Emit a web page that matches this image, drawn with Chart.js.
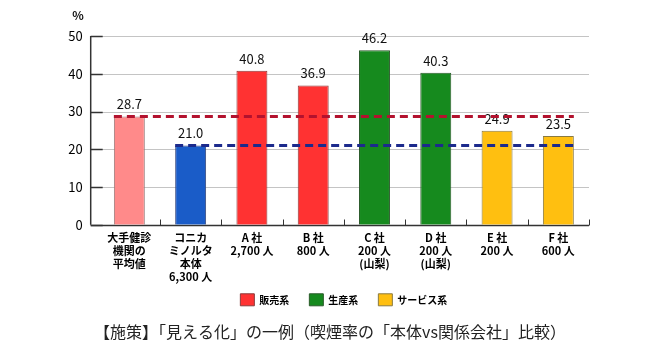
<!DOCTYPE html>
<html>
<head>
<meta charset="utf-8">
<style>
  html, body { margin: 0; padding: 0; background: #ffffff; }
  #wrap { width: 660px; height: 355px; }
</style>
<script src="https://cdn.jsdelivr.net/npm/chart.js@4/dist/chart.umd.min.js"></script>
</head>
<body>
<div id="wrap"><canvas id="c" width="660" height="355"></canvas></div>
<script>
// ---- data ----
const categories = [
  ["大手健診", "機関の", "平均値"],
  ["コニカ", "ミノルタ", "本体", "6,300 人"],
  ["A 社", "2,700 人"],
  ["B 社", "800 人"],
  ["C 社", "200 人", "(山梨)"],
  ["D 社", "200 人", "(山梨)"],
  ["E 社", "200 人"],
  ["F 社", "600 人"]
];
const smokingRates = [28.7, 21.0, 40.8, 36.9, 46.2, 40.3, 24.9, 23.5];
const groups = ["average", "konica", "sales", "sales", "production", "production", "service", "service"];
const legendGroups = ["sales", "production", "service"];
const legendNames = ["販売系", "生産系", "サービス系"];
const yTicks = [0, 10, 20, 30, 40, 50];
const unitLabel = "%";
const titleText = "【施策】「見える化」の一例（喫煙率の「本体vs関係会社」比較）";
const averageIndex = 0;   // 大手健診機関の平均値
const konicaIndex = 1;    // コニカミノルタ本体

// ---- styles ----
const groupColors = {
  average: "#ff8a8a",
  konica: "#1a5cc8",
  sales: "#ff3232",
  production: "#168a1e",
  service: "#ffbf10"
};
const groupBorders = {
  average: "#9a7a7a",
  konica: "#3a4a80",
  sales: "#8a3a3a",
  production: "#2a5a2a",
  service: "#8a7a40"
};
const FONT = "'Noto Sans CJK JP', 'Noto Sans', sans-serif";
const AXIS_GAP = 8;   // y axis line sits left of the category area

const decorPlugin = {
  id: "decor",
  beforeDatasetsDraw(chart) {
    const ctx = chart.ctx;
    const ca = chart.chartArea;
    const y = chart.scales.y;
    const x = chart.scales.x;
    const axisX = ca.left - AXIS_GAP;
    const step = x.getPixelForValue(1) - x.getPixelForValue(0);
    ctx.save();
    // horizontal gridlines
    yTicks.forEach(v => {
      const py = Math.round(y.getPixelForValue(v)) + 0.5;
      if (v !== 0) {
        ctx.strokeStyle = "#c4c4c4";
        ctx.lineWidth = 1;
        ctx.beginPath();
        ctx.moveTo(axisX, py);
        ctx.lineTo(ca.right, py);
        ctx.stroke();
      }
      ctx.strokeStyle = "#333";
      ctx.lineWidth = 1.5;
      ctx.beginPath();
      ctx.moveTo(axisX, py);
      ctx.lineTo(axisX + 12, py);
      ctx.stroke();
    });
    // y axis line
    ctx.strokeStyle = "#333";
    ctx.lineWidth = 1.5;
    ctx.beginPath();
    ctx.moveTo(axisX, y.getPixelForValue(50));
    ctx.lineTo(axisX, y.getPixelForValue(0));
    ctx.stroke();
    // x axis line
    const by = Math.round(y.getPixelForValue(0)) + 0.5;
    ctx.beginPath();
    ctx.moveTo(axisX, by);
    ctx.lineTo(ca.right, by);
    ctx.stroke();
    // category boundary ticks (pointing up)
    ctx.lineWidth = 1;
    for (let i = 0; i < categories.length; i++) {
      const px = Math.round(x.getPixelForValue(i) + step / 2) + 0.5;
      ctx.beginPath();
      ctx.moveTo(px, by);
      ctx.lineTo(px, by - 6);
      ctx.stroke();
    }
    // category labels
    ctx.fillStyle = "#000";
    ctx.font = "bold 11px " + FONT;
    ctx.textAlign = "center";
    ctx.textBaseline = "middle";
    categories.forEach((lines, i) => {
      const cx = x.getPixelForValue(i);
      lines.forEach((t, k) => ctx.fillText(t, cx, by + 12 + k * 13.1));
    });
    // unit label
    ctx.fillStyle = "#111";
    ctx.font = "bold 12px " + FONT;
    ctx.fillText(unitLabel, 78, 15);
    ctx.restore();
  },
  afterDatasetsDraw(chart) {
    const ctx = chart.ctx;
    const meta = chart.getDatasetMeta(0);
    const y = chart.scales.y;
    ctx.save();
    // value labels
    ctx.fillStyle = "#111";
    ctx.font = "13px " + FONT;
    ctx.textAlign = "center";
    ctx.textBaseline = "middle";
    meta.data.forEach((bar, i) => {
      ctx.fillText(smokingRates[i].toFixed(1), bar.x, bar.y - 12);
    });
    // reference dashed lines
    const last = meta.data[meta.data.length - 1];
    const rightEnd = last.x + last.width / 2;
    const drawRef = (idx, color) => {
      const b = meta.data[idx];
      const py = y.getPixelForValue(smokingRates[idx]);
      ctx.strokeStyle = color;
      ctx.lineWidth = 3;
      ctx.setLineDash([8, 5]);
      ctx.beginPath();
      ctx.moveTo(b.x - b.width / 2, py);
      ctx.lineTo(rightEnd, py);
      ctx.stroke();
    };
    drawRef(averageIndex, "#b3122e");
    drawRef(konicaIndex, "#1c2a8c");
    ctx.restore();
  }
};

new Chart(document.getElementById("c"), {
  type: "bar",
  data: {
    labels: categories,
    datasets: [{
      data: smokingRates,
      backgroundColor: groups.map(g => groupColors[g]),
      borderColor: groups.map(g => groupBorders[g]),
      borderWidth: 1,
      barPercentage: 0.505,
      categoryPercentage: 1.0
    }]
  },
  options: {
    responsive: false,
    animation: false,
    events: [],
    layout: { padding: { top: 36, left: 0, right: 0, bottom: 0 } },
    scales: {
      x: {
        offset: true,
        grid: { display: false, drawTicks: false },
        border: { display: false },
        ticks: { display: false },
        afterFit: s => { s.height = 49; }
      },
      y: {
        min: 0,
        max: 50,
        grid: { display: false, drawTicks: false },
        border: { display: false },
        afterBuildTicks: s => { s.ticks = yTicks.map(v => ({ value: v })); },
        ticks: {
          color: "#000",
          padding: 16,
          font: { family: FONT, size: 13 }
        },
        afterFit: s => { s.width = 98.7; }
      },
      yr: {
        position: "right",
        display: true,
        grid: { display: false, drawTicks: false },
        border: { display: false },
        ticks: { display: false },
        afterFit: s => { s.width = 71; }
      }
    },
    plugins: {
      legend: {
        position: "bottom",
        fullSize: false,
        labels: {
          boxWidth: 14,
          boxHeight: 12,
          padding: 20,
          color: "#000",
          font: { family: FONT, size: 10, weight: "bold" },
          generateLabels: () => legendGroups.map((g, i) => ({
            text: legendNames[i],
            fillStyle: groupColors[g],
            strokeStyle: groupBorders[g],
            lineWidth: 1,
            hidden: false,
            index: i
          }))
        }
      },
      title: {
        display: true,
        position: "bottom",
        text: titleText,
        color: "#222",
        padding: { top: 7, bottom: 13 },
        font: { family: FONT, size: 16, weight: "normal", lineHeight: 1.2 }
      },
      tooltip: { enabled: false }
    }
  },
  plugins: [decorPlugin]
});
</script>
</body>
</html>
